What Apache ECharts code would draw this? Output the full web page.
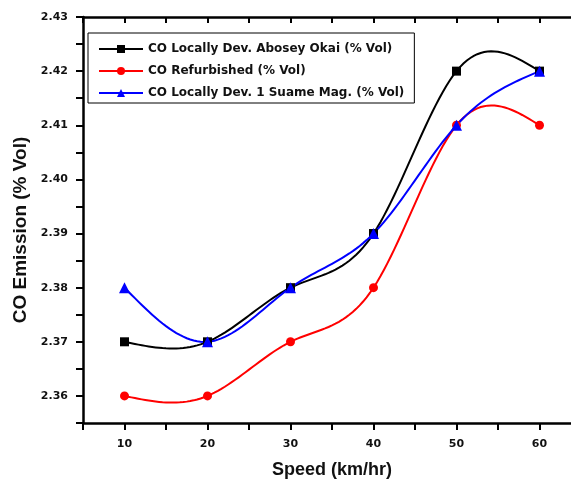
<!DOCTYPE html>
<html>
<head>
<meta charset="utf-8">
<script src="https://cdn.jsdelivr.net/npm/echarts@6/dist/echarts.min.js"></script>
<style>
    html, body { margin: 0; padding: 0; background: #fff; overflow: hidden; }
    #chart { width: 571px; height: 479px; }
</style>
</head>
<body>
<div id="chart"></div>
<script>
// 数据
const speeds = [10, 20, 30, 40, 50, 60];
const abosey = [2.37, 2.37, 2.38, 2.39, 2.42, 2.42];
const refurbished = [2.36, 2.36, 2.37, 2.38, 2.41, 2.41];
const suame = [2.38, 2.37, 2.38, 2.39, 2.41, 2.42];
const seriesNames = [
    'CO Locally Dev. Abosey Okai (% Vol)',
    'CO Refurbished (% Vol)',
    'CO Locally Dev. 1 Suame Mag. (% Vol)'
];
const colors = ['#000000', '#ff0000', '#0000ff'];

const font = 'Liberation Sans, Arial, sans-serif';
const wideFont = 'DejaVu Sans, sans-serif';

function pairs(ys) {
    return speeds.map((x, i) => [x, ys[i]]);
}

// 自然三次样条的二阶导数
function splineM(xs, ys) {
    const n = xs.length;
    const M = new Array(n).fill(0);
    const a = [], b = [], c = [], d = [];
    for (let i = 1; i < n - 1; i++) {
        const h0 = xs[i] - xs[i - 1], h1 = xs[i + 1] - xs[i];
        a.push(h0); b.push(2 * (h0 + h1)); c.push(h1);
        d.push(6 * ((ys[i + 1] - ys[i]) / h1 - (ys[i] - ys[i - 1]) / h0));
    }
    const m = b.length;
    for (let i = 1; i < m; i++) {
        const w = a[i] / b[i - 1];
        b[i] -= w * c[i - 1];
        d[i] -= w * d[i - 1];
    }
    const sol = new Array(m);
    for (let i = m - 1; i >= 0; i--) {
        sol[i] = (d[i] - (i < m - 1 ? c[i] * sol[i + 1] : 0)) / b[i];
    }
    for (let i = 0; i < m; i++) M[i + 1] = sol[i];
    return M;
}

function makeCurve(name, ys, color) {
    const M = splineM(speeds, ys);
    return {
        name: name + ' curve',
        type: 'custom',
        data: pairs(ys),
        z: 2,
        renderItem: function (params, api) {
            const i = params.dataIndex;
            if (i >= speeds.length - 1) return null;
            const x0 = speeds[i], x1 = speeds[i + 1], h = x1 - x0;
            const pts = [];
            const steps = 24;
            for (let k = 0; k <= steps; k++) {
                const x = x0 + h * k / steps;
                const A = (x1 - x) / h, B = (x - x0) / h;
                const y = A * ys[i] + B * ys[i + 1] +
                    ((A * A * A - A) * M[i] + (B * B * B - B) * M[i + 1]) * h * h / 6;
                pts.push(api.coord([x, y]));
            }
            return {
                type: 'polyline',
                shape: { points: pts },
                style: { stroke: color, lineWidth: 2, fill: null }
            };
        }
    };
}

function makeMarks(name, ys, color, symbol, size) {
    return {
        name: name,
        type: 'line',
        data: pairs(ys),
        z: 3,
        symbol: symbol,
        symbolSize: size,
        itemStyle: { color: color },
        lineStyle: { color: color, width: 2, opacity: 0 }
    };
}

document.addEventListener('DOMContentLoaded', function () {
    const myChart = echarts.init(document.getElementById('chart'));

    const xCommon = {
        type: 'value',
        min: 5,
        max: 65,
        interval: 5,
        splitLine: { show: false },
        axisLine: { lineStyle: { color: '#000', width: 2.5 } }
    };
    const yCommon = {
        type: 'value',
        min: 2.355,
        max: 2.43,
        interval: 0.005,
        splitLine: { show: false },
        axisLine: { lineStyle: { color: '#000', width: 2.5 } }
    };
    const labelStyle = { fontFamily: wideFont, fontWeight: 'bold', fontSize: 11, color: '#111' };
    const nameStyle = { fontFamily: font, fontWeight: 'bold', fontSize: 18, color: '#111' };

    const option = {
        backgroundColor: '#fff',
        animation: false,
        grid: {
            left: 83, top: 17, width: 498, height: 406,
            containLabel: false,
            outerBoundsMode: 'none'
        },
        legend: {
            orient: 'vertical',
            left: 88,
            top: 33,
            padding: [10, 10, 4, 10],
            itemGap: 10,
            itemWidth: 44,
            itemHeight: 10,
            borderColor: '#000',
            borderWidth: 1,
            textStyle: { fontFamily: wideFont, fontWeight: 'bold', fontSize: 12, color: '#111' },
            data: seriesNames.map((n, i) => ({
                name: n,
                lineStyle: { color: colors[i], width: 2, opacity: 1 }
            }))
        },
        xAxis: [
            Object.assign({}, xCommon, {
                position: 'bottom',
                name: 'Speed (km/hr)',
                nameLocation: 'middle',
                nameGap: 38,
                nameTextStyle: nameStyle,
                axisTick: { show: true, length: 7, lineStyle: { color: '#000', width: 2 } },
                axisLabel: Object.assign({}, labelStyle, {
                    margin: 16,
                    formatter: function (v) { return v % 10 === 0 ? String(v) : ''; }
                })
            }),
            Object.assign({}, xCommon, {
                position: 'top',
                axisTick: { show: true, inside: true, length: 6, lineStyle: { color: '#000', width: 2 } },
                axisLabel: { show: false }
            })
        ],
        yAxis: [
            Object.assign({}, yCommon, {
                position: 'left',
                name: 'CO Emission (% Vol)',
                nameLocation: 'middle',
                nameGap: 50,
                nameTextStyle: Object.assign({}, nameStyle, { fontSize: 19, padding: [0, 20, 0, 0] }),
                axisTick: { show: true, length: 7, lineStyle: { color: '#000', width: 2 } },
                axisLabel: Object.assign({}, labelStyle, {
                    margin: 15,
                    formatter: function (v) {
                        const k = Math.round(v * 1000);
                        return k % 10 === 0 ? v.toFixed(2) : '';
                    }
                })
            }),
            Object.assign({}, yCommon, {
                position: 'right',
                axisTick: { show: true, inside: true, length: 6, lineStyle: { color: '#000', width: 2 } },
                axisLabel: { show: false }
            })
        ],
        series: [
            makeCurve(seriesNames[0], abosey, colors[0]),
            makeCurve(seriesNames[1], refurbished, colors[1]),
            makeCurve(seriesNames[2], suame, colors[2]),
            makeMarks(seriesNames[0], abosey, colors[0], 'rect', 9),
            makeMarks(seriesNames[1], refurbished, colors[1], 'circle', 9),
            makeMarks(seriesNames[2], suame, colors[2], 'triangle', 11)
        ]
    };

    myChart.setOption(option);
});
</script>
</body>
</html>
